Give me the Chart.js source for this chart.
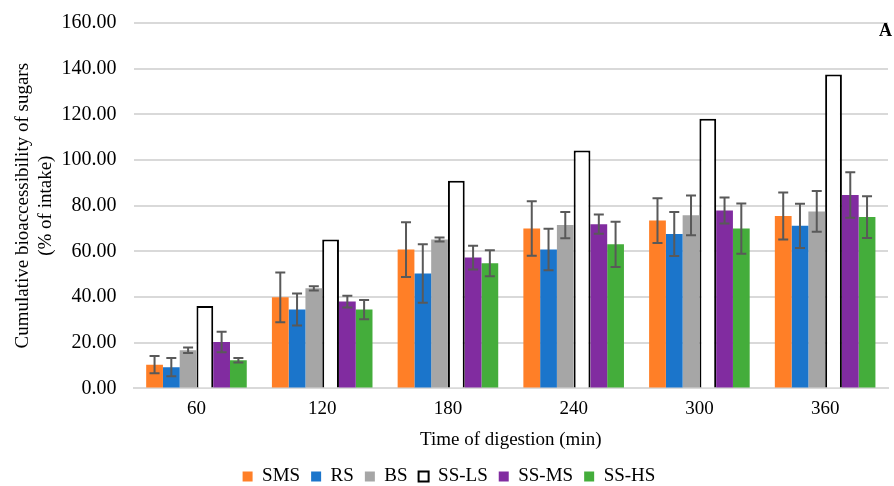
<!DOCTYPE html>
<html>
<head>
<meta charset="utf-8">
<script src="https://cdn.jsdelivr.net/npm/chart.js@4/dist/chart.umd.min.js"></script>
<style>
  html, body { margin: 0; padding: 0; background: #fff; }
  #wrap { width: 894px; height: 486px; }
</style>
</head>
<body>
<div id="wrap"><canvas id="myChart" width="894" height="486"></canvas></div>
<script>
var times = ['60', '120', '180', '240', '300', '360'];
var yTicks = [0, 20, 40, 60, 80, 100, 120, 140, 160];

var sms = [10.4, 39.9, 60.8, 70.0, 73.5, 75.5];
var smsErr = [3.8, 10.9, 12.0, 11.9, 9.8, 10.3];
var rs = [9.3, 34.5, 50.3, 60.8, 67.6, 71.2];
var rsErr = [4.0, 7.0, 12.8, 9.1, 9.6, 9.7];
var bs = [16.7, 43.8, 65.2, 71.5, 75.8, 77.5];
var bsErr = [1.2, 0.9, 0.9, 5.7, 8.7, 8.9];
var ssLs = [36.1, 65.2, 90.9, 104.2, 118.1, 137.4];
var ssMs = [20.3, 38.0, 57.3, 71.9, 77.9, 84.7];
var ssMsErr = [4.5, 2.6, 5.2, 4.2, 5.7, 10.0];
var ssHs = [12.3, 34.5, 54.8, 63.1, 70.0, 75.0];
var ssHsErr = [1.0, 4.2, 5.7, 9.9, 11.0, 9.1];

var serif = '"Liberation Serif", "Times New Roman", serif';
var fs = 19;
var yPad = 17;

// error bars drawn from the y scale
var errorBars = {
  id: 'errorBars',
  afterDatasetsDraw: function (chart) {
    var ctx = chart.ctx;
    var y = chart.scales.y;
    ctx.save();
    ctx.strokeStyle = '#595959';
    ctx.lineWidth = 2;
    chart.data.datasets.forEach(function (ds, i) {
      if (!ds.errors) return;
      var meta = chart.getDatasetMeta(i);
      meta.data.forEach(function (bar, j) {
        var v = ds.data[j], e = ds.errors[j];
        var top = y.getPixelForValue(v + e);
        var bot = y.getPixelForValue(v - e);
        var x = bar.x;
        ctx.beginPath();
        ctx.moveTo(x, top); ctx.lineTo(x, bot);
        ctx.moveTo(x - 5, top); ctx.lineTo(x + 5, top);
        ctx.moveTo(x - 5, bot); ctx.lineTo(x + 5, bot);
        ctx.stroke();
      });
    });
    ctx.restore();
  },
  afterDraw: function (chart) {
    var ctx = chart.ctx;
    var a = chart.chartArea;
    ctx.save();
    ctx.fillStyle = '#000';
    ctx.font = 'bold 18px ' + serif;
    ctx.textAlign = 'right';
    ctx.textBaseline = 'middle';
    ctx.fillText('A', a.right + 4, a.top + 8);
    ctx.restore();
  }
};

var ctx = document.getElementById('myChart');
var myChart = new Chart(ctx, {
  type: 'bar',
  data: {
    labels: times,
    datasets: [
      { label: 'SMS', data: sms, errors: smsErr, backgroundColor: '#FF7F27', borderWidth: 0 },
      { label: 'RS', data: rs, errors: rsErr, backgroundColor: '#1B75CB', borderWidth: 0 },
      { label: 'BS', data: bs, errors: bsErr, backgroundColor: '#A6A6A6', borderWidth: 0 },
      { label: 'SS-LS', data: ssLs, backgroundColor: '#FFFFFF', borderColor: '#000000', borderWidth: 2 },
      { label: 'SS-MS', data: ssMs, errors: ssMsErr, backgroundColor: '#812CA0', borderWidth: 0 },
      { label: 'SS-HS', data: ssHs, errors: ssHsErr, backgroundColor: '#44AD3B', borderWidth: 0 }
    ]
  },
  options: {
    responsive: false,
    animation: false,
    layout: { padding: { top: 23, right: 6, left: 10, bottom: -10 } },
    datasets: { bar: { categoryPercentage: 0.8, barPercentage: 1.0 } },
    plugins: {
      legend: {
        position: 'bottom',
        labels: {
          font: { family: serif, size: fs },
          color: '#000',
          boxWidth: 10,
          boxHeight: 10,
          padding: 11,
          generateLabels: function (chart) {
            return chart.data.datasets.map(function (ds, i) {
              return {
                text: ds.label,
                fillStyle: ds.backgroundColor,
                strokeStyle: ds.borderWidth ? ds.borderColor : ds.backgroundColor,
                lineWidth: ds.borderWidth ? 2 : 0,
                datasetIndex: i
              };
            });
          }
        }
      },
      tooltip: { enabled: false }
    },
    scales: {
      x: {
        grid: { display: false, drawTicks: false },
        border: { color: '#D9D9D9', width: 2 },
        ticks: { font: { family: serif, size: fs }, color: '#000', padding: 9 },
        title: { display: true, text: 'Time of digestion (min)', font: { family: serif, size: fs }, color: '#000', padding: { top: -1, bottom: 5 } }
      },
      y: {
        min: 0,
        max: 160,
        afterBuildTicks: function (axis) {
          axis.ticks = yTicks.map(function (v) { return { value: v }; });
        },
        afterFit: function (axis) {
          // chart.js counts tick padding twice and adds it above the axis
          axis.width -= yPad;
          axis.paddingTop = 0;
        },
        grid: { color: '#D9D9D9', lineWidth: 2, drawTicks: false },
        border: { display: false },
        ticks: {
          font: { family: serif, size: 20 },
          color: '#000',
          padding: yPad,
          callback: function (v) { return Number(v).toFixed(2); }
        },
        title: {
          display: true,
          text: ['Cumulative bioaccessibility of sugars', '(% of intake)'],
          font: { family: serif, size: fs },
          color: '#000',
          padding: { top: 2, bottom: 4 }
        }
      }
    }
  },
  plugins: [errorBars]
});
</script>
</body>
</html>
